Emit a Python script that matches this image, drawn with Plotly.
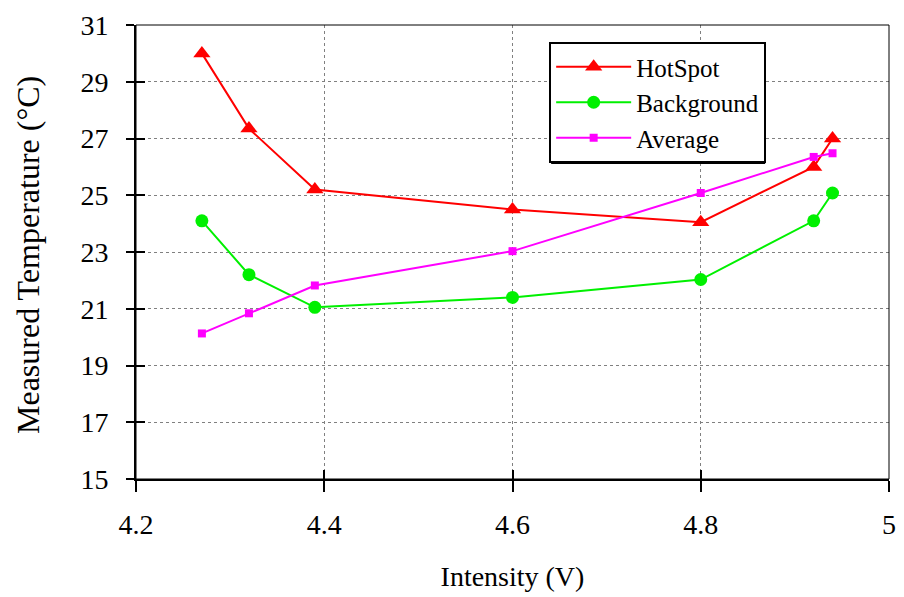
import plotly.graph_objects as go

intensity = [4.27, 4.32, 4.39, 4.6, 4.8, 4.92, 4.94]
hotspot = [30.0, 27.35, 25.2, 24.5, 24.05, 26.0, 27.0]
background = [24.1, 22.2, 21.05, 21.4, 22.03, 24.1, 25.08]
average = [20.13, 20.84, 21.82, 23.03, 25.08, 26.35, 26.48]

x_ticks = [4.2, 4.4, 4.6, 4.8, 5.0]
x_labels = ["4.2", "4.4", "4.6", "4.8", "5"]
y_ticks = [15, 17, 19, 21, 23, 25, 27, 29, 31]

FONT = "Liberation Serif"

W, H = 904, 597
L, R, T, B = 136, 8, 25, 118
PW, PH = W - L - R, H - T - B


def px(x):
    return (x - L) / PW


def py(y):
    return (H - B - y) / PH


fig = go.Figure()
fig.add_trace(go.Scatter(x=intensity, y=hotspot, name="HotSpot", mode="lines+markers",
                         line=dict(color="#ff0000", width=2),
                         marker=dict(symbol="triangle-up", size=15, color="#ff0000")))
fig.add_trace(go.Scatter(x=intensity, y=background, name="Background", mode="lines+markers",
                         line=dict(color="#00f000", width=2),
                         marker=dict(symbol="circle", size=13, color="#00f000")))
fig.add_trace(go.Scatter(x=intensity, y=average, name="Average", mode="lines+markers",
                         line=dict(color="#ff00ff", width=2),
                         marker=dict(symbol="square", size=8, color="#ff00ff")))

grid = dict(showgrid=True, gridcolor="#808080", griddash="dot", gridwidth=1)

# legend box in pixels (estimated rendered size)
LG_L, LG_T = 549, 42
LG_W, LG_H = 216, 116
SH = 6

fig.update_layout(
    width=W, height=H,
    margin=dict(l=L, r=R, t=T, b=B),
    paper_bgcolor="white", plot_bgcolor="white",
    font=dict(family=FONT, color="black", size=27),
    showlegend=True,
    xaxis=dict(range=[4.2, 5.0], tickvals=x_ticks, ticktext=x_labels,
               ticks="outside", ticklen=11, tickwidth=2, tickcolor="black",
               showline=True, linecolor="black", linewidth=2, zeroline=False,
               tickfont=dict(size=28, family=FONT), ticklabelstandoff=8,
               title=dict(text="Intensity (V)", font=dict(size=28, family=FONT), standoff=28),
               **grid),
    yaxis=dict(range=[15, 31], tickvals=y_ticks,
               ticks="outside", ticklen=8, tickwidth=2, tickcolor="black",
               showline=True, linecolor="black", linewidth=2, zeroline=False,
               tickfont=dict(size=28, family=FONT), ticklabelstandoff=12,
               **grid),
    xaxis2=dict(overlaying="x", anchor="y", side="bottom", range=[4.2, 5.0],
                tickvals=x_ticks, ticks="inside", ticklen=9, tickwidth=2, tickcolor="black",
                showticklabels=False, showgrid=False, zeroline=False, showline=False),
    yaxis2=dict(overlaying="y", anchor="x", side="left", range=[15, 31],
                tickvals=y_ticks, ticks="inside", ticklen=9, tickwidth=2, tickcolor="black",
                showticklabels=False, showgrid=False, zeroline=False, showline=False),
    legend=dict(x=px(LG_L + 4), y=py(LG_T), xanchor="left", yanchor="top",
                bgcolor="white", bordercolor="black", borderwidth=2,
                font=dict(size=25, family=FONT), tracegroupgap=0, itemwidth=75),
    annotations=[
        dict(text="Measured Temperature (°C)", textangle=-90, showarrow=False,
             xref="paper", yref="paper", x=px(27), y=py(255),
             xanchor="center", yanchor="middle", font=dict(size=32, family=FONT)),
    ],
    shapes=[
        dict(type="rect", xref="paper", yref="paper", x0=0, x1=1, y0=0, y1=1,
             line=dict(color="black", width=1), layer="above"),
        dict(type="rect", xref="paper", yref="paper",
             x0=px(LG_L + SH), x1=px(LG_L + LG_W + SH),
             y0=py(LG_T + LG_H + SH), y1=py(LG_T + SH),
             fillcolor="black", line=dict(width=0), layer="above"),
    ],
)
fig.add_trace(go.Scatter(x=[4.2], y=[15], xaxis="x2", yaxis="y2", mode="markers",
                         marker=dict(opacity=0), showlegend=False, hoverinfo="skip"))

fig.write_html("out.html", config={"displayModeBar": False},
               post_script="document.body.style.margin='0';")
